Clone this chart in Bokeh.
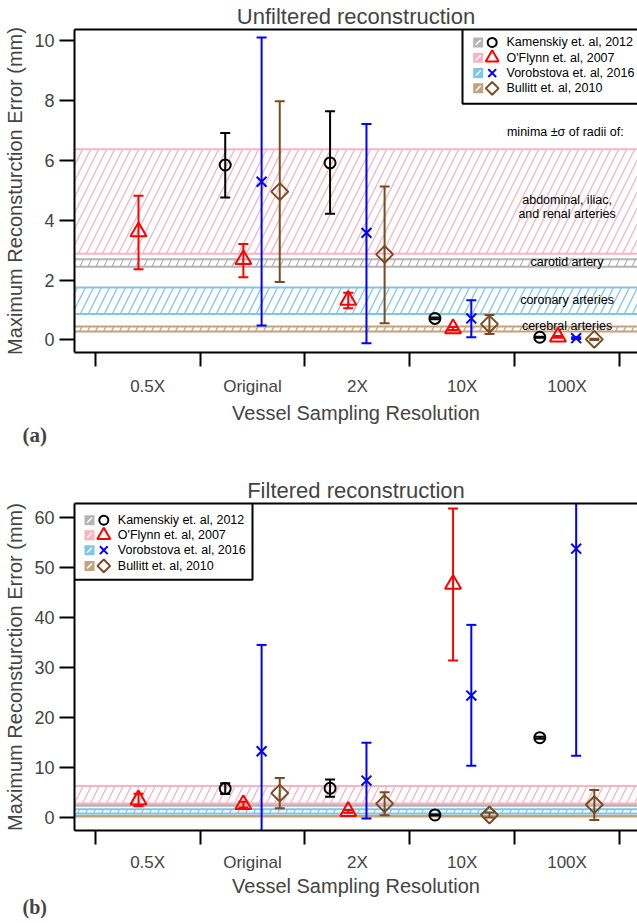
import math
from bokeh.plotting import figure
from bokeh.models import Range1d, LinearAxis, FixedTicker, ColumnDataSource, Title
from bokeh.layouts import column
from bokeh.embed import file_html
from bokeh.resources import INLINE
from bokeh.core.properties import value

nan = float("nan")

# ---------------------------------------------------------------- data
categories = ["0.5X", "Original", "2X", "10X", "100X"]
studies = ["Kamenskiy et. al, 2012", "O'Flynn et. al, 2007",
           "Vorobstova et. al, 2016", "Bullitt et. al, 2010"]

# vessel radius bands (minima +/- sigma), one per study
band_names = ["carotid artery", "abdominal, iliac, and renal arteries",
              "coronary arteries", "cerebral arteries"]
band_low = [2.45, 2.88, 0.87, 0.28]
band_high = [2.70, 6.38, 1.75, 0.45]

# unfiltered reconstruction: value, lower and upper error limit
kam_unf = [nan, 5.85, 5.92, 0.72, 0.09]
kam_unf_lo = [nan, 4.76, 4.22, 0.69, 0.07]
kam_unf_hi = [nan, 6.92, 7.65, 0.75, 0.11]
ofl_unf = [3.62, 2.69, 1.33, 0.38, 0.10]
ofl_unf_lo = [2.36, 2.10, 1.06, 0.33, 0.07]
ofl_unf_hi = [4.82, 3.21, 1.58, 0.43, 0.13]
vor_unf = [nan, 5.29, 3.58, 0.72, 0.06]
vor_unf_lo = [nan, 0.48, -0.11, 0.09, 0.03]
vor_unf_hi = [nan, 10.11, 7.22, 1.33, 0.09]
bul_unf = [nan, 4.96, 2.86, 0.53, 0.02]
bul_unf_lo = [nan, 1.94, 0.56, 0.20, 0.00]
bul_unf_hi = [nan, 7.98, 5.13, 0.83, 0.04]

# filtered reconstruction
kam_fil = [nan, 5.85, 5.92, 0.60, 16.0]
kam_fil_lo = [nan, 4.76, 4.22, 0.50, 15.8]
kam_fil_hi = [nan, 6.92, 7.65, 0.70, 16.2]
ofl_fil = [3.62, 2.69, 1.33, 46.6, nan]
ofl_fil_lo = [2.36, 2.10, 1.06, 31.4, nan]
ofl_fil_hi = [4.82, 3.21, 1.58, 61.7, nan]
vor_fil = [nan, 13.3, 7.46, 24.4, 53.7]
vor_fil_lo = [nan, -7.9, -0.10, 10.4, 12.4]
vor_fil_hi = [nan, 34.5, 15.0, 38.5, 95.0]
bul_fil = [nan, 4.96, 2.86, 0.60, 2.65]
bul_fil_lo = [nan, 1.94, 0.56, 0.10, -0.40]
bul_fil_hi = [nan, 7.98, 5.13, 1.10, 5.60]

y_ticks_unf = [0, 2, 4, 6, 8, 10]
y_ticks_fil = [0, 10, 20, 30, 40, 50, 60]

band_label_text = ["minima  \u00b1\u03c3 of radii of:", "abdominal, iliac,",
                   "and renal arteries", "carotid artery",
                   "coronary arteries", "cerebral arteries"]

# ---------------------------------------------------------------- style
FONT = "Liberation Sans"
W = 637
LEFT = 74
series_colors = ["#000000", "#ff0000", "#0000ff", "#7a4a22"]
band_colors = ["#b4b4b4", "#f7b3c2", "#7ec6e6", "#c4a27c"]
markers = ["circle", "triangle", "x", "square"]
marker_angle = [0, 0, 0, math.pi / 4]
marker_size = [11, 16, 14, 12]
legend_marker_size = [9, 13, 11, 9]
offsets = [-0.26, -0.087, 0.087, 0.26]
X_START, X_END = -0.6975, 4.672


def make_panel(title, height, top, bottom, y_range, y_ticks, vals, legend_left,
               legend_right, legend_bottom, legend_rows, swatch_x, mark_x,
               text_x, panel_tag, label_standoff, title_standoff, tag_size,
               band_labels=None):
    fw = W - LEFT
    fh = height - top - bottom
    p = figure(width=W, height=height, x_range=Range1d(X_START, X_END),
               y_range=Range1d(*y_range), output_backend="svg",
               toolbar_location=None, min_border_left=LEFT, min_border_right=0,
               min_border_top=top, min_border_bottom=bottom, title=title)
    p.extra_x_ranges = {"px": Range1d(0, fw)}
    p.extra_y_ranges = {"px": Range1d(0, fh)}
    p.outline_line_color = None
    p.grid.visible = False
    p.background_fill_color = "white"
    p.border_fill_color = "white"

    p.title.align = "center"
    p.title.text_font = FONT
    p.title.text_font_size = "22px"
    p.title.text_font_style = "normal"
    p.title.standoff = 2

    xax = p.below[0]
    yax = p.left[0]

    yax.ticker = FixedTicker(ticks=y_ticks)
    yax.axis_line_width = 2
    yax.major_tick_line_width = 2
    yax.major_tick_out = 15
    yax.major_tick_in = 0
    yax.minor_tick_line_color = None
    yax.major_label_text_font = FONT
    yax.major_label_text_font_size = "18px"
    yax.major_label_standoff = 5
    yax.axis_label = "Maximum Reconsturction Error (mm)"
    yax.axis_label_text_font = FONT
    yax.axis_label_text_font_size = "20px"
    yax.axis_label_text_font_style = "normal"
    yax.axis_label_standoff = 5

    xax.ticker = FixedTicker(ticks=list(range(len(categories))),
                             minor_ticks=[i - 0.5 for i in range(len(categories) + 1)])
    xax.major_label_overrides = {i: c for i, c in enumerate(categories)}
    xax.axis_line_width = 2
    xax.major_tick_out = 0
    xax.major_tick_in = 0
    xax.major_tick_line_color = None
    xax.minor_tick_out = 14
    xax.minor_tick_in = 0
    xax.minor_tick_line_width = 2
    xax.minor_tick_line_color = "black"
    xax.major_label_text_font = FONT
    xax.major_label_text_font_size = "17px"
    xax.major_label_standoff = label_standoff
    xax.axis_label = "Vessel Sampling Resolution"
    xax.axis_label_text_font = FONT
    xax.axis_label_text_font_size = "20px"
    xax.axis_label_text_font_style = "normal"
    xax.axis_label_standoff = title_standoff

    # panel tag under the axis title
    p.add_layout(Title(text=panel_tag, align="left", offset=-52, standoff=-7,
                       vertical_align="top",
                       text_font="Liberation Serif", text_font_style="bold",
                       text_font_size=tag_size), "below")

    # top frame line
    top_axis = LinearAxis(ticker=FixedTicker(ticks=[]), axis_line_width=2,
                          major_tick_out=0, major_tick_in=0, major_label_standoff=0,
                          major_label_text_font_size="0px",
                          minor_tick_line_color=None, major_tick_line_color=None)
    p.add_layout(top_axis, "above")

    # vessel-radius bands
    bsrc = ColumnDataSource(dict(bottom=band_low, top=band_high,
                                 color=band_colors))
    p.quad(left=X_START - 1, right=X_END + 1, bottom="bottom", top="top",
           source=bsrc, fill_alpha=0, line_color="color", line_width=2,
           hatch_pattern="/", hatch_color="color", hatch_scale=16,
           hatch_weight=1.3)

    if band_labels is not None:
        lsrc = ColumnDataSource(dict(x=[len(categories) - 1] * len(band_label_text),
                                     y=band_labels, text=band_label_text))
        p.text(x="x", y="y", text="text", source=lsrc, text_align="center",
               text_baseline="middle", text_font=value(FONT),
               text_font_size="12.5px", text_color="black")

    # points with error bars
    for s, (y, lo, hi) in enumerate(vals):
        xs, ys, los, his = [], [], [], []
        for i in range(len(categories)):
            if math.isnan(y[i]):
                continue
            xs.append(i + offsets[s])
            ys.append(y[i])
            los.append(lo[i])
            his.append(hi[i])
        src = ColumnDataSource(dict(x=xs, y=ys, lo=los, hi=his))
        col = series_colors[s]
        p.segment(x0="x", y0="lo", x1="x", y1="hi", source=src,
                  line_color=col, line_width=2)
        p.scatter(x="x", y="lo", source=src, marker="dash", size=10,
                  line_color=col, line_width=2)
        p.scatter(x="x", y="hi", source=src, marker="dash", size=10,
                  line_color=col, line_width=2)
        p.scatter(x="x", y="y", source=src, marker=markers[s],
                  angle=marker_angle[s], size=marker_size[s], fill_color=None,
                  line_color=col, line_width=2)

    # legend box, drawn in frame pixel units
    p.quad(left=[legend_left], right=[legend_right], bottom=[legend_bottom],
           top=[fh + 10], x_range_name="px", y_range_name="px",
           fill_color="white", line_color="black", line_width=2)
    sw = 10
    for s in range(len(studies)):
        ry = legend_rows[s]
        p.quad(left=[swatch_x], right=[swatch_x + sw], bottom=[ry - sw / 2],
               top=[ry + sw / 2], x_range_name="px", y_range_name="px",
               fill_color=band_colors[s], line_color=None)
        p.segment(x0=[swatch_x + 2.5], y0=[ry - 2.5], x1=[swatch_x + 7.5],
                  y1=[ry + 2.5], x_range_name="px", y_range_name="px",
                  line_color="white", line_width=1.5)
        p.scatter(x=[mark_x], y=[ry], x_range_name="px", y_range_name="px",
                  marker=markers[s], angle=marker_angle[s],
                  size=legend_marker_size[s], fill_color=None,
                  line_color=series_colors[s], line_width=2)
        p.text(x=[text_x], y=[ry], text=[studies[s]], x_range_name="px",
               y_range_name="px", text_baseline="middle", text_align="left",
               text_font=value(FONT), text_font_size="12.5px", text_color="black")
    return p


unf_vals = [(kam_unf, kam_unf_lo, kam_unf_hi), (ofl_unf, ofl_unf_lo, ofl_unf_hi),
            (vor_unf, vor_unf_lo, vor_unf_hi), (bul_unf, bul_unf_lo, bul_unf_hi)]
fil_vals = [(kam_fil, kam_fil_lo, kam_fil_hi), (ofl_fil, ofl_fil_lo, ofl_fil_hi),
            (vor_fil, vor_fil_lo, vor_fil_hi), (bul_fil, bul_fil_lo, bul_fil_hi)]

p1 = make_panel("Unfiltered reconstruction", 462, 27, 110, (-0.42, 10.38),
                y_ticks_unf, unf_vals, legend_left=388, legend_right=600,
                legend_bottom=250.3, legend_rows=[312, 296.6, 281.2, 265.8],
                swatch_x=398.7, mark_x=417.7, text_x=432, panel_tag="(a)",
                label_standoff=10, title_standoff=3, tag_size="21px",
                band_labels=[6.95, 4.68, 4.20, 2.60, 1.33, 0.47])

p2 = make_panel("Filtered reconstruction", 461, 41, 93, (-2.5, 62.7),
                y_ticks_fil, fil_vals, legend_left=-1, legend_right=178,
                legend_bottom=250.7, legend_rows=[310.3, 295.3, 280.3, 264.6],
                swatch_x=10, mark_x=29.3, text_x=43.3, panel_tag="(b)",
                label_standoff=8, title_standoff=0, tag_size="20px")

layout = column(p1, p2, spacing=0)
open("out.html", "w").write(file_html(layout, INLINE))
